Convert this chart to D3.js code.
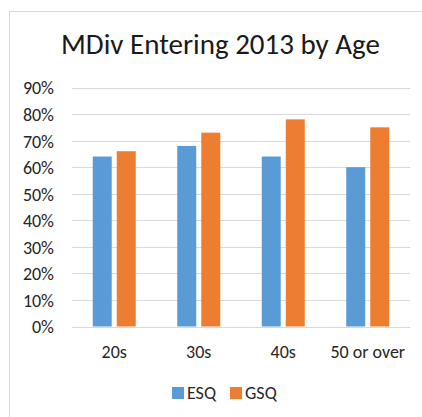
<!DOCTYPE html>
<html>
<head>
<meta charset="utf-8">
<script src="https://cdn.jsdelivr.net/npm/d3@7"></script>
<style>
  body { margin: 0; background: #fff; }
  svg { display: block; font-family: Carlito, Calibri, Lato, sans-serif; }
</style>
</head>
<body>
<div id="chart"></div>
<script>
var categories = ["20s", "30s", "40s", "50 or over"];
var seriesNames = ["ESQ", "GSQ"];
var esqValues = [0.64, 0.68, 0.64, 0.60];
var gsqValues = [0.66, 0.73, 0.78, 0.75];
var yTicks = [0, 0.1, 0.2, 0.3, 0.4, 0.5, 0.6, 0.7, 0.8, 0.9];
var colors = ["#5B9BD5", "#ED7D31"];

var W = 422, H = 417;
var plot = { left: 72, right: 410, top: 87.5, bottom: 326.5 };
var FONT = "Carlito, Calibri, Lato, sans-serif";

var svg = d3.select("#chart").append("svg")
	.attr("width", W)
	.attr("height", H);

// outer chart frame (only left and top edges visible in crop)
svg.append("rect")
	.attr("x", 9.5).attr("y", 11.5)
	.attr("width", W).attr("height", H)
	.style("fill", "#fff")
	.style("stroke", "#D9D9D9");

svg.append("text")
	.attr("x", 220.5).attr("y", 54)
	.attr("text-anchor", "middle")
	.style("font-size", "29px")
	.style("fill", "#1a1a1a")
	.text("MDiv Entering 2013 by Age");

var y = d3.scaleLinear().domain([0, 0.9]).range([plot.bottom, plot.top]);
var x0 = d3.scaleBand().domain(categories).range([plot.left, plot.right]).paddingInner(0).paddingOuter(0);
var x1 = d3.scaleBand().domain(seriesNames).range([x0.bandwidth() / 2 - 21.5, x0.bandwidth() / 2 + 21.5]).paddingInner(0.21);

// gridlines
svg.append("g").selectAll("line")
	.data(yTicks)
	.enter().append("line")
	.attr("x1", plot.left).attr("x2", plot.right)
	.attr("y1", function(d) { return Math.round(y(d)) + 0.5; })
	.attr("y2", function(d) { return Math.round(y(d)) + 0.5; })
	.style("stroke", "#D9D9D9")
	.style("stroke-width", 1);

// y axis labels
var yAxis = svg.append("g")
	.attr("transform", "translate(" + plot.left + ",0)")
	.call(d3.axisLeft(y).tickValues(yTicks).tickFormat(d3.format(".0%")).tickSize(0).tickPadding(18));
yAxis.select(".domain").remove();
yAxis.selectAll("text")
	.attr("dy", "0.36em")
	.style("font-family", FONT)
	.style("font-size", "18px")
	.style("fill", "#262626");

// bars
var data = categories.map(function(c, i) {
	return { cat: c, vals: [{ s: "ESQ", v: esqValues[i] }, { s: "GSQ", v: gsqValues[i] }] };
});
var groups = svg.append("g").selectAll("g")
	.data(data)
	.enter().append("g")
	.attr("transform", function(d) { return "translate(" + x0(d.cat) + ",0)"; });
groups.selectAll("rect")
	.data(function(d) { return d.vals; })
	.enter().append("rect")
	.attr("x", function(d) { return x1(d.s); })
	.attr("width", x1.bandwidth())
	.attr("y", function(d) { return y(d.v); })
	.attr("height", function(d) { return y(0) - y(d.v); })
	.style("fill", function(d, i) { return colors[i]; });

// x axis labels
var xAxis = svg.append("g")
	.attr("transform", "translate(0," + plot.bottom + ")")
	.call(d3.axisBottom(x0).tickSize(0).tickPadding(0));
xAxis.select(".domain").remove();
xAxis.selectAll("text")
	.attr("y", 31)
	.attr("dy", 0)
	.style("font-family", FONT)
	.style("font-size", "18px")
	.style("fill", "#262626");

// legend
var legendX = [172, 230];
var legend = svg.append("g").selectAll("g")
	.data(seriesNames)
	.enter().append("g")
	.attr("transform", function(d, i) { return "translate(" + legendX[i] + ",387)"; });
legend.append("rect")
	.attr("width", 12).attr("height", 12)
	.style("fill", function(d, i) { return colors[i]; });
legend.append("text")
	.attr("x", 15).attr("y", 11.5)
	.style("font-size", "18px")
	.style("fill", "#262626")
	.text(function(d) { return d; });
</script>
</body>
</html>
